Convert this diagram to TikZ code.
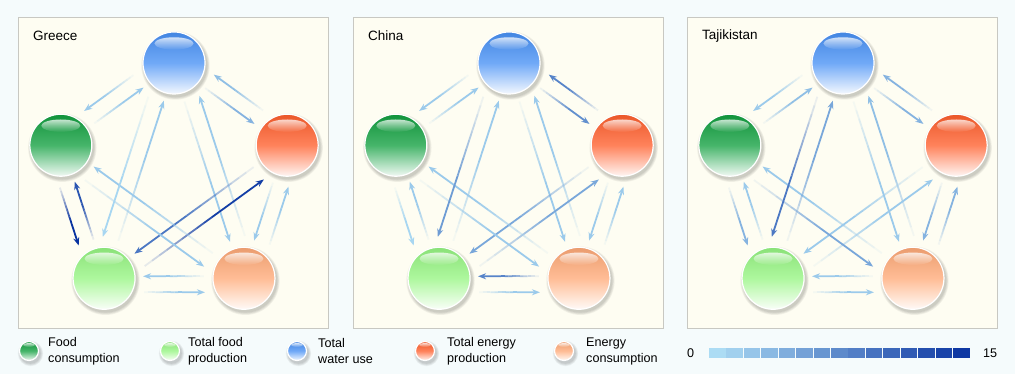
\documentclass[tikz,border=0pt]{standalone}
\usepackage{fontspec}
\setmainfont{Liberation Sans}
\usetikzlibrary{arrows.meta,calc,fadings}

\definecolor{bgpage}{RGB}{245,251,252}
\definecolor{panelfill}{RGB}{254,253,242}
\definecolor{panelline}{RGB}{200,200,194}
\definecolor{foodcons}{RGB}{18,160,64}
\definecolor{foodprod}{RGB}{150,245,130}
\definecolor{wateruse}{RGB}{72,145,245}
\definecolor{enprod}{RGB}{255,95,45}
\definecolor{encons}{RGB}{255,170,120}
\definecolor{flowlight}{RGB}{178,226,247}
\definecolor{flowdark}{RGB}{8,50,160}

\tikzfading[name=glossfade, top color=transparent!25, bottom color=transparent!100]

\tikzset{
      panelbox/.style={draw=panelline, fill=panelfill, line width=0.8pt},
      ballnode/.style={circle, draw=white, line width=1.2pt, inner sep=0pt},
      paneltitle/.style={anchor=west, inner sep=0pt, font=\fontsize{13.5}{16}\selectfont},
      legendtext/.style={anchor=west, align=left, inner sep=0pt, font=\fontsize{12.6}{16}\selectfont},
      flowline/.style={line width=1.8pt}
    }

% glossy sphere: name, position, colour, radius
\newcommand\ball[4]{%
  \coordinate (#1-at) at (#2);
  \foreach \i in {1,...,4}
    \fill[black, opacity=0.05] ($(#1-at)+(1.5,2.5)$) circle[radius=#4+\i*0.8];
  \node[ballnode, minimum size=#4*2pt, top color=#3!92!black, bottom color=#3!6!white, middle color=#3!78!white] (#1) at (#1-at) {};
  \fill[white, path fading=glossfade] ($(#1.center)+(0,-0.63*#4)$) ellipse[x radius=0.63*#4, y radius=0.2*#4];
}

% fading flow arrow: from, to, level (0-15), offset to the right
\newcommand\flow[4]{%
  \pgfmathsetmacro\flowpct{#3/15*100}
  \colorlet{flowcol}{flowdark!\flowpct!flowlight}
  \coordinate (fa) at ($(#1)!40pt!(#2)$);
  \coordinate (fb) at ($(#2)!39pt!(#1)$);
  \coordinate (fs) at ($(fa)!#4pt!-90:(#2)$);
  \coordinate (fe) at ($(fb)!#4pt!90:(#1)$);
  \foreach \k [evaluate=\k as \op using \k/10] in {1,...,10}
    \draw[flowline, flowcol, draw opacity=\op] ($(fs)!{(\k-1)/16}!(fe)$) -- ($(fs)!{\k/16}!(fe)$);
  \draw[flowline, flowcol, -{Stealth[length=8pt,width=6pt]}] ($(fs)!{10/16}!(fe)$) -- (fe);
}

\begin{document}
\begin{tikzpicture}[x=1pt,y=-1pt]
    \fill[bgpage] (0,0) rectangle (1015,374);
    \useasboundingbox (0,0) rectangle (1015,374);

    % panels with the five spheres
    \foreach \p/\px/\ttl in {gr/18/Greece, cn/353/China, tj/687/Tajikistan} {
      \draw[panelbox] (\px,17) rectangle (\px+310,328);
      \node[paneltitle] (\p-title) at (\px+15,36) {\ttl};
      \coordinate (\p-c) at (\px+156,182);
      \ball{\p-water}{$(\p-c)+(-90:119)$}{wateruse}{31}
      \ball{\p-enprod}{$(\p-c)+(-18:119)$}{enprod}{31}
      \ball{\p-encons}{$(\p-c)+(54:119)$}{encons}{31}
      \ball{\p-foodp}{$(\p-c)+(126:119)$}{foodprod}{31}
      \ball{\p-foodc}{$(\p-c)+(198:119)$}{foodcons}{31}
    }

    % Greece
    \foreach \a/\c/\ac/\ca in {water/enprod/4/3, enprod/encons/2/2, encons/foodp/2/2,
        foodp/foodc/12/15, foodc/water/2/2, water/encons/2/2, enprod/foodp/9/14,
        encons/foodc/2/2, foodp/water/2/1}
      {\flow{gr-\a}{gr-\c}{\ac}{2}\flow{gr-\c}{gr-\a}{\ca}{14}}
    % China
    \foreach \a/\c/\ac/\ca in {water/enprod/7/8, enprod/encons/2/2, encons/foodp/8/2,
        foodp/foodc/2/1, foodc/water/2/2, water/encons/2/2, enprod/foodp/5/5,
        encons/foodc/2/2, foodp/water/2/6}
      {\flow{cn-\a}{cn-\c}{\ac}{2}\flow{cn-\c}{cn-\a}{\ca}{14}}
    % Tajikistan
    \foreach \a/\c/\ac/\ca in {water/enprod/4/4, enprod/encons/4/4, encons/foodp/2/2,
        foodp/foodc/2/4, foodc/water/3/2, water/encons/2/3, enprod/foodp/2/2,
        encons/foodc/2/5, foodp/water/5/9}
      {\flow{tj-\a}{tj-\c}{\ac}{2}\flow{tj-\c}{tj-\a}{\ca}{14}}

    % legend
    \ball{lg-foodc}{29,351}{foodcons}{9.5}
    \node[legendtext] (lt-foodc) at (48,351) {Food\\consumption};
    \ball{lg-foodp}{170,351}{foodprod}{9.5}
    \node[legendtext] (lt-foodp) at (188,351) {Total food\\production};
    \ball{lg-water}{297,351}{wateruse}{9.5}
    \node[legendtext] (lt-water) at (318,351) {Total\\water use};
    \ball{lg-enprod}{425,351}{enprod}{9.5}
    \node[legendtext] (lt-enprod) at (447,351) {Total energy\\production};
    \ball{lg-encons}{564,351}{encons}{9.5}
    \node[legendtext] (lt-encons) at (586,351) {Energy\\consumption};

    % colour scale
    \node[legendtext] (sc-lo) at (687,353) {0};
    \foreach \i [evaluate=\i as \pct using (\i+0.5)/15*100] in {0,...,14}
      \fill[flowdark!\pct!flowlight] (709+\i*17.43,348.3) rectangle +(16.5,9.4);
    \node[legendtext] (sc-hi) at (983,353) {15};
\end{tikzpicture}
\end{document}
